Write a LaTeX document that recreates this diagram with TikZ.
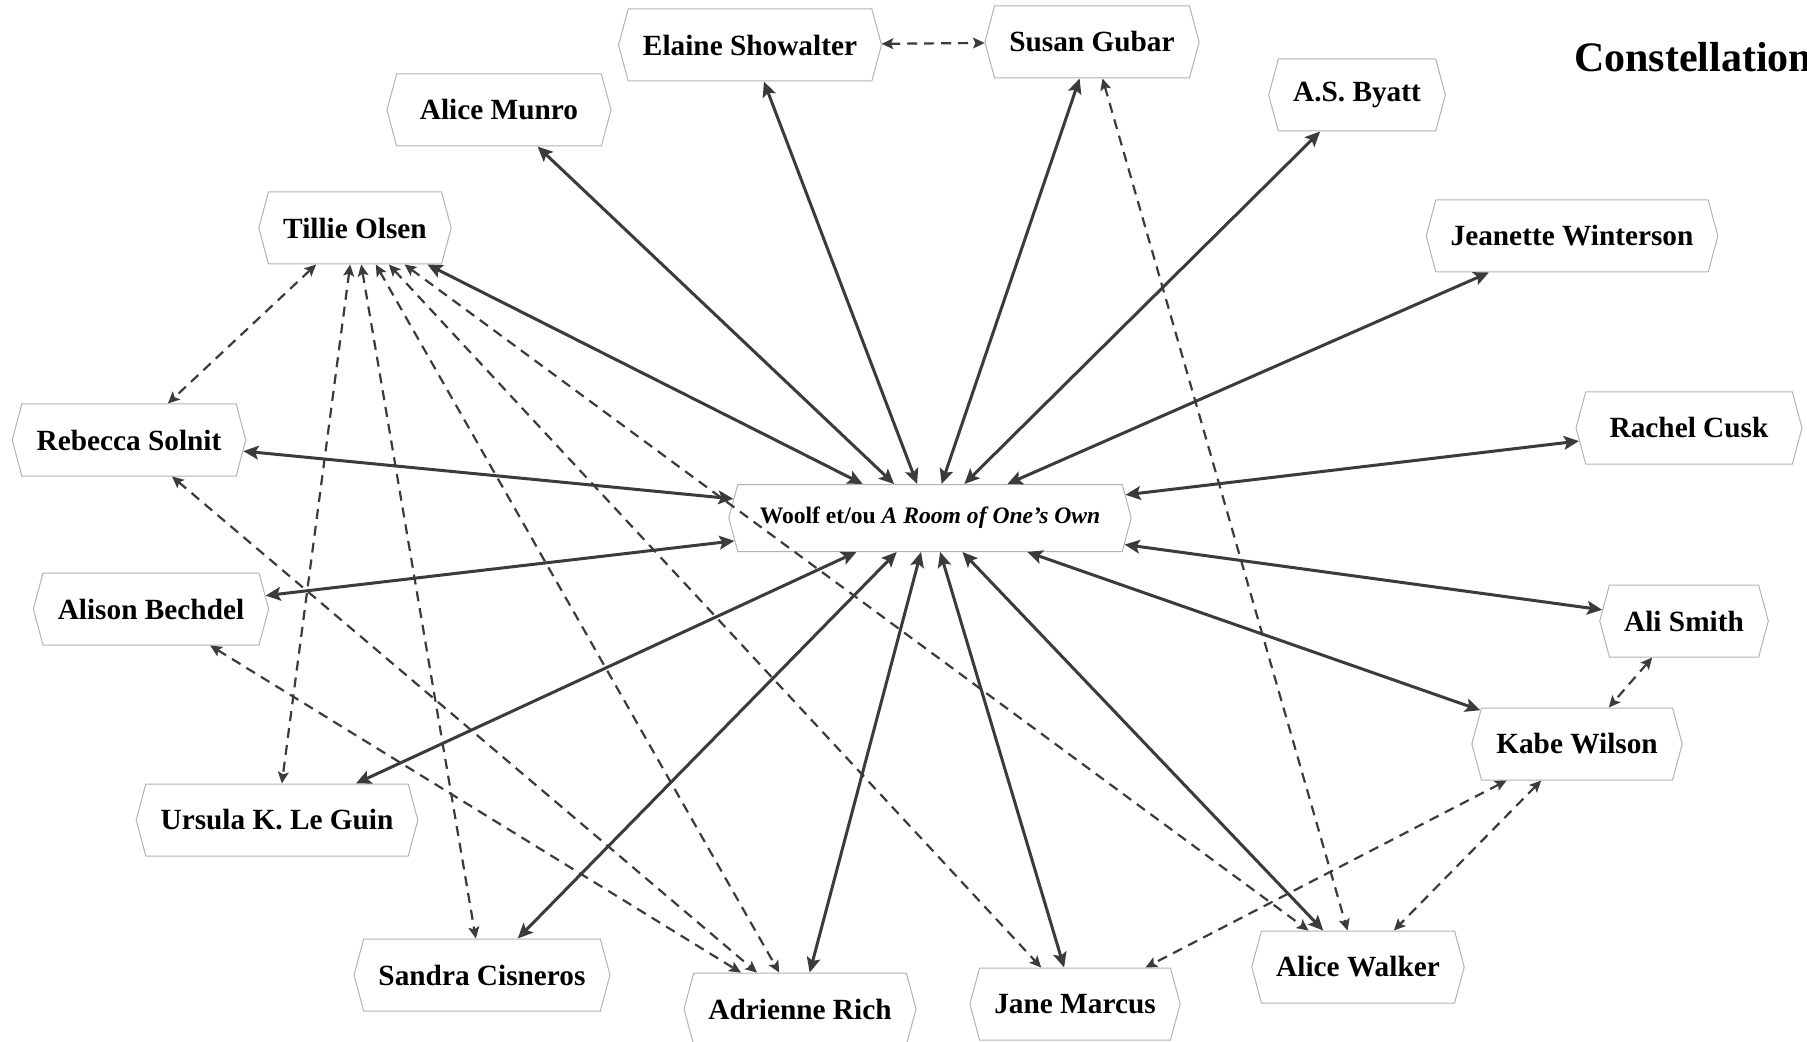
\documentclass[tikz,border=0pt]{standalone}
\usepackage{fontspec}
\setmainfont{Liberation Serif}
\usepackage{tikz}
\usetikzlibrary{arrows.meta,shapes.symbols}

\begin{document}
\begin{tikzpicture}[
  x=0.5pt, y=-0.5pt,
  author/.style={signal, signal to=east and west, signal pointer angle=150, draw=black!30, line width=0.5pt, minimum height=36pt, inner xsep=7.4pt, font=\bfseries\fontsize{14.65}{17}\selectfont},
  hub/.style={author, minimum height=33.5pt, inner xsep=11pt, font=\bfseries\fontsize{11.8}{14}\selectfont},
  link/.style={{Stealth[length=7.5pt,width=6.8pt,inset=1.5pt]}-{Stealth[length=7.5pt,width=6.8pt,inset=1.5pt]}, line width=1.5pt, draw=black!77},
  echo/.style={{Stealth[length=5.8pt,width=5.4pt,inset=1.2pt]}-{Stealth[length=5.8pt,width=5.4pt,inset=1.2pt]}, line width=1.1pt, draw=black!77, dash pattern=on 5pt off 3.5pt}
]
\useasboundingbox (0,0) rectangle (1807,1042);

% Title, cut by the right edge
\node[anchor=base west, font=\bfseries\fontsize{21}{25}\selectfont] (title) at (1567,72) {Constellation};

% Centre
\node[hub] (woolf) at (930,518) {Woolf et/ou \textit{A Room of One’s Own}};

% Upper half of the ring
\node[author, minimum width=131pt] (showalter) at (750,45) {Elaine Showalter};
\node[author] (gubar) at (1092,42) {Susan Gubar};
\node[author] (byatt) at (1357,95) {A.S. Byatt};
\node[author, minimum width=112pt] (munro) at (499,110) {Alice Munro};
\node[author] (olsen) at (355,228) {Tillie Olsen};
\node[author] (winterson) at (1572,236) {Jeanette Winterson};
\node[author] (solnit) at (129,440) {Rebecca Solnit};
\node[author, minimum width=113pt] (cusk) at (1689,428) {Rachel Cusk};

% Lower half of the ring
\node[author] (bechdel) at (151,609) {Alison Bechdel};
\node[author] (smith) at (1684,621) {Ali Smith};
\node[author] (wilson) at (1577,744) {Kabe Wilson};
\node[author] (leguin) at (277,820) {Ursula K. Le Guin};
\node[author] (cisneros) at (482,975) {Sandra Cisneros};
\node[author] (rich) at (800,1009) {Adrienne Rich};
\node[author] (marcus) at (1075,1004) {Jane Marcus};
\node[author] (walker) at (1358,967) {Alice Walker};

% Solid links to the centre
\draw[link] (woolf) -- (munro);
\draw[link] (woolf) -- (showalter);
\draw[link] (woolf) -- (gubar);
\draw[link] (woolf) -- (byatt);
\draw[link] (woolf) -- (winterson);
\draw[link] (woolf) -- (cusk);
\draw[link] (woolf) -- (smith);
\draw[link] (woolf) -- (wilson);
\draw[link] (woolf) -- (walker);
\draw[link] (woolf) -- (marcus);
\draw[link] (woolf) -- (rich);
\draw[link] (woolf) -- (cisneros);
\draw[link] (woolf) -- (leguin);
\draw[link] (woolf) -- (bechdel);
\draw[link] (woolf) -- (solnit);
\draw[link] (woolf) -- (olsen);

% Dashed links between the others
\draw[echo] (showalter) -- (gubar);
\draw[echo] (gubar) -- (walker);
\draw[echo] (smith) -- (wilson);
\draw[echo] (wilson) -- (marcus);
\draw[echo] (wilson) -- (walker);
\draw[echo] (olsen) -- (solnit);
\draw[echo] (olsen) -- (leguin);
\draw[echo] (olsen) -- (cisneros);
\draw[echo] (olsen) -- (rich);
\draw[echo] (olsen) -- (marcus);
\draw[echo] (olsen) -- (walker);
\draw[echo] (solnit) -- (rich);
\draw[echo] (bechdel) -- (rich);

\end{tikzpicture}
\end{document}
